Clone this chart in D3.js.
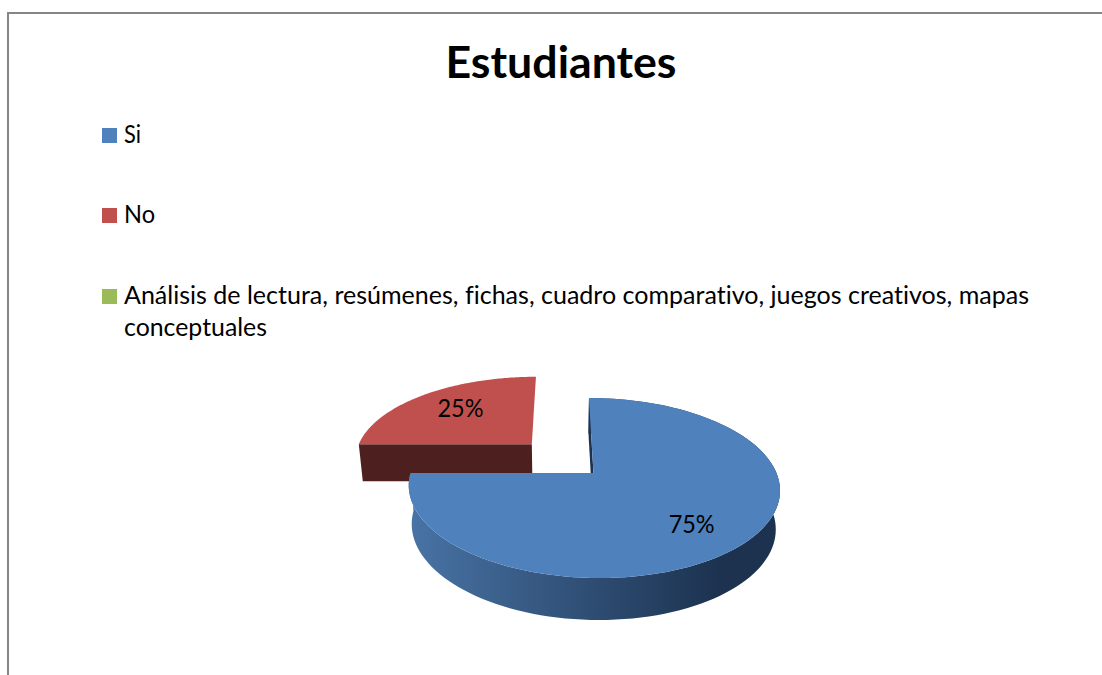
<!DOCTYPE html>
<html>
<head>
<meta charset="utf-8">
<script src="https://cdn.jsdelivr.net/npm/d3@7"></script>
<style>
    html, body { margin: 0; padding: 0; background: #fff; overflow: hidden; }
    text { font-family: Lato, "Open Sans", sans-serif; fill: #000; font-variant-ligatures: none; }
</style>
</head>
<body>
<div id="chart"></div>
<script>
// data
const categories  = ["Si", "No", "Análisis de lectura, resúmenes, fichas, cuadro comparativo, juegos creativos, mapas conceptuales"];
const values      = [75, 25, 0];
const percentages = ["75%", "25%", ""];
const chartTitle  = "Estudiantes";

const width = 1102, height = 675;
const colors     = ["#4f81bd", "#c0504d", "#9bbb59"];
const wallColors = ["#1c324f", "#4d1f1e", "#4d5e2c"];
const explode     = [0, 0.49, 0];
const labelRadius = [0.72, 0.667, 0];
const labelTurn   = [0.07, 0.03, 0];

const svg = d3.select("#chart").append("svg")
    .attr("width", width)
    .attr("height", height);

// blue wall gets darker from left to right
const grad = svg.append("defs").append("linearGradient")
    .attr("id", "wallGrad")
    .attr("gradientUnits", "userSpaceOnUse")
    .attr("x1", 412).attr("x2", 720).attr("y1", 0).attr("y2", 0);
grad.append("stop").attr("offset", "0").attr("stop-color", "#4873a5");
grad.append("stop").attr("offset", "1").attr("stop-color", "#1c324f");

// chart border, cut off by the window on the right and bottom
svg.append("path")
    .attr("d", d3.line()([[8, height], [8, 13], [width, 13]]))
    .attr("fill", "none")
    .attr("stroke", "#868686")
    .attr("stroke-width", 2);

// title
svg.append("text")
    .attr("x", 561)
    .attr("y", 78)
    .attr("text-anchor", "middle")
    .attr("font-size", 43)
    .attr("font-weight", 700)
    .attr("textLength", 231)
    .attr("lengthAdjust", "spacingAndGlyphs")
    .text(chartTitle);

// legend
const legendRows = [
    {i: 0, lines: [categories[0]], y: 143, len: [17]},
    {i: 1, lines: [categories[1]], y: 223, len: [31]},
    {i: 2, lines: [categories[2].replace(" conceptuales", ""), "conceptuales"], y: 304, len: [905, 143]}
];
const legend = svg.selectAll(".legend-row")
    .data(legendRows)
    .enter().append("g")
    .attr("class", "legend-row")
    .attr("transform", d => `translate(102,${d.y})`);

legend.append("rect")
    .attr("y", -15)
    .attr("width", 15)
    .attr("height", 15)
    .attr("fill", d => colors[d.i]);

legend.selectAll("text")
    .data(d => d.lines.map((t, k) => ({t: t, k: k, len: d.len[k]})))
    .enter().append("text")
    .attr("x", 22)
    .attr("y", d => d.k * 32)
    .attr("font-size", 24.5)
    .attr("textLength", d => d.len)
    .attr("lengthAdjust", "spacingAndGlyphs")
    .text(d => d.t);

// perspective view of the pie plane: u,v are in pie radii
const vanishX = 562, planeY = 473, radiusX = 183, tilt = 1 / 6, pieX = 0.172;

function project(u, v) {
    let w = 1 - tilt * v;
    return [vanishX + radiusX * (u + pieX) / w, planeY + 87.5 * v / w];
}

// same point pushed down on the lower face of the pie
function lower(p) {
    let depth = 37 + (p[1] - 444) * 5 / 134;
    return [p[0] + (vanishX - p[0]) * 0.0196, p[1] + depth];
}

const pie = d3.pie().sort(null).value(d => d);
const slices = pie(values).map((d, i) => {
    let mid = (d.startAngle + d.endAngle) / 2;
    return Object.assign(d, {
        i: i,
        mid: mid,
        dx: explode[i] * Math.sin(mid),
        dy: -explode[i] * Math.cos(mid)
    });
}).filter(d => d.value > 0);

function rimPoints(d) {
    let steps = d3.range(0, 1.0001, 1 / 120);
    let angle = d3.scaleLinear().domain([0, 1]).range([d.startAngle, d.endAngle]);
    return steps.map(t => project(d.dx + Math.sin(angle(t)), d.dy - Math.cos(angle(t))));
}

const line = d3.line();

// back slice first so the blue one sits over it
const ordered = slices.slice().sort((a, b) => b.i - a.i);

ordered.forEach(d => {
    let rim = rimPoints(d);
    let apex = project(d.dx, d.dy);
    let first = rim[0];

    if (d.i === 0) {
        // round outer wall plus the inner cut at twelve o'clock
        svg.append("path")
            .attr("d", line(rim.concat(rim.map(lower).reverse())) + "Z")
            .attr("fill", "url(#wallGrad)");
        svg.append("path")
            .attr("d", line([first, apex, lower(apex), lower(first)]) + "Z")
            .attr("fill", wallColors[d.i]);
    } else {
        // only the front cut of the red slice shows
        svg.append("path")
            .attr("d", line([first, apex, lower(apex), lower(first)]) + "Z")
            .attr("fill", wallColors[d.i]);
    }

    // top face
    svg.append("path")
        .attr("d", line([apex].concat(rim)) + "Z")
        .attr("fill", colors[d.i]);

    // percent label
    let a = d.mid + labelTurn[d.i], r = labelRadius[d.i];
    let pos = project(d.dx + r * Math.sin(a), d.dy - r * Math.cos(a));
    svg.append("text")
        .attr("x", pos[0])
        .attr("y", pos[1] + 8)
        .attr("text-anchor", "middle")
        .attr("font-size", 24.5)
        .attr("textLength", 46)
        .attr("lengthAdjust", "spacingAndGlyphs")
        .text(percentages[d.i]);
});
</script>
</body>
</html>
